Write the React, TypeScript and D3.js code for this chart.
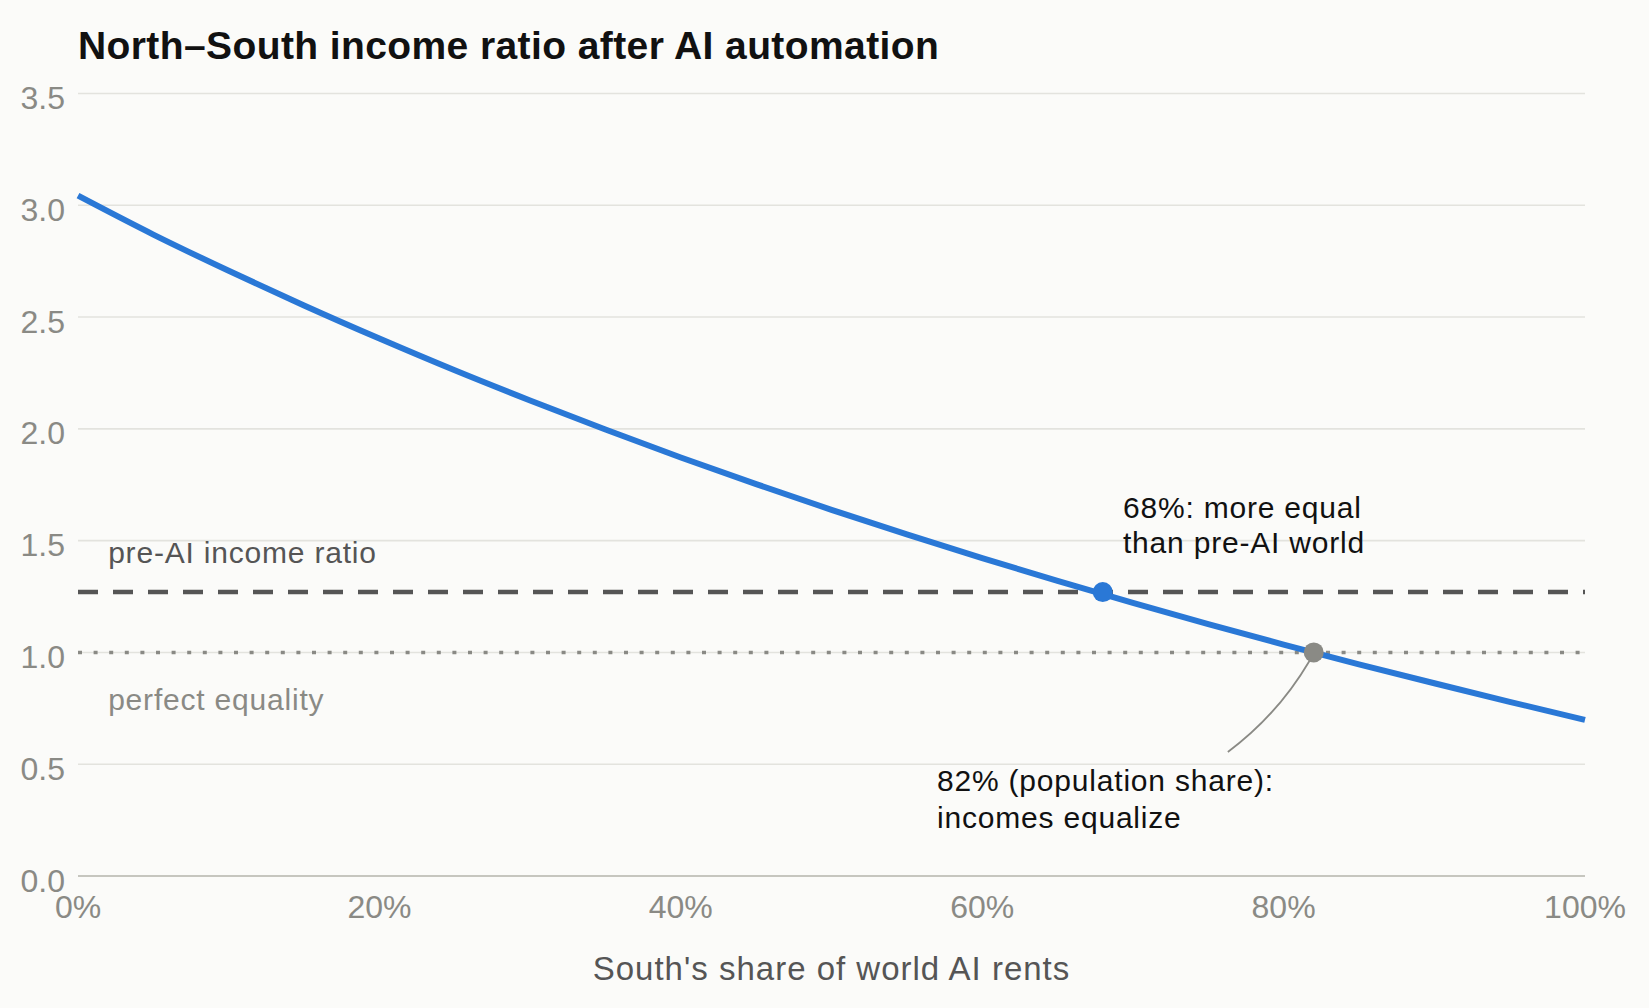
import React from 'react'
import * as d3 from 'd3'

// South's share of world AI rents (0..1) and the resulting North/South income ratio
const shares = [0, 0.05, 0.1, 0.15, 0.2, 0.25, 0.3, 0.35, 0.4, 0.45, 0.5, 0.55, 0.6, 0.65, 0.7, 0.75, 0.8, 0.85, 0.9, 0.95, 1.0]
const ratios = [3.043, 2.869, 2.707, 2.552, 2.404, 2.262, 2.127, 1.997, 1.872, 1.753, 1.638, 1.528, 1.422, 1.32, 1.222, 1.127, 1.035, 0.947, 0.862, 0.779, 0.698]

const yTicks = [0, 0.5, 1.0, 1.5, 2.0, 2.5, 3.0, 3.5]
const xTicks = [0, 0.2, 0.4, 0.6, 0.8, 1.0]

const preAIRatio = 1.27
const equalityRatio = 1.0
const crossShare = 0.68
const equalizeShare = 0.82

const W = 1649
const H = 1008
const FONT = '"Liberation Sans", Arial, Helvetica, sans-serif'

const App: React.FC = () => {
  const x = d3.scaleLinear().domain([0, 1]).range([78, 1585])
  const y = d3.scaleLinear().domain([0, 3.5]).range([876, 93.5])

  const pts = shares.map((s, i) => [s, ratios[i]] as [number, number])
  const line = d3.line<[number, number]>()
    .x(d => x(d[0]))
    .y(d => y(d[1]))
    .curve(d3.curveMonotoneX)

  // leader from the "incomes equalize" label up to the grey dot
  const leader = d3.path()
  leader.moveTo(x(0.763), y(0.555))
  leader.quadraticCurveTo(x(0.796), y(0.72), x(equalizeShare) - 4, y(equalityRatio) + 8)

  const fmtPct = d3.format('.0%')
  const fmtY = d3.format('.1f')

  return (
    <>
      <style>{'body{margin:0;background:#fbfbf9}'}</style>
      <svg width={W} height={H} style={{ display: 'block', background: '#fbfbf9' }} fontFamily={FONT}>
        {/* title */}
        <text x={78} y={59} fontSize={39} fontWeight={700} fill="#111" letterSpacing={0.4}>
          North–South income ratio after AI automation
        </text>

        {/* gridlines */}
        {yTicks.filter(t => t > 0).map(t => (
          <line key={t} x1={x(0)} x2={x(1)} y1={y(t)} y2={y(t)} stroke="#e3e3de" strokeWidth={1.6} />
        ))}
        <line x1={x(0)} x2={x(1)} y1={y(0)} y2={y(0)} stroke="#c6c6bf" strokeWidth={2.2} />

        {/* y tick labels */}
        {yTicks.map(t => (
          <text key={t} x={65} y={y(t) + 15.5} textAnchor="end" fontSize={32} fill="#8a8a85">
            {fmtY(t)}
          </text>
        ))}

        {/* x tick labels */}
        {xTicks.map(t => (
          <text key={t} x={x(t)} y={918} textAnchor="middle" fontSize={32} fill="#8a8a85">
            {fmtPct(t)}
          </text>
        ))}

        <text x={(x(0) + x(1)) / 2} y={980} textAnchor="middle" fontSize={33} fill="#555" letterSpacing={1}>
          South's share of world AI rents
        </text>

        {/* reference lines */}
        <line x1={x(0)} x2={x(1)} y1={y(equalityRatio)} y2={y(equalityRatio)}
          stroke="#8a8a85" strokeWidth={3.5} strokeDasharray="4 11.6" />
        <line x1={x(0)} x2={x(1)} y1={y(preAIRatio)} y2={y(preAIRatio)}
          stroke="#555" strokeWidth={4.5} strokeDasharray="20 15" />

        <text x={x(0.02)} y={y(1.4)} fontSize={30} fill="#555" letterSpacing={0.8}>pre-AI income ratio</text>
        <text x={x(0.02)} y={y(0.742)} fontSize={30} fill="#8a8a85" letterSpacing={0.8}>perfect equality</text>

        {/* main curve */}
        <path d={line(pts) || ''} fill="none" stroke="#2a78d6" strokeWidth={6} strokeLinejoin="round" />

        {/* leader + markers */}
        <path d={leader.toString()} fill="none" stroke="#8a8a85" strokeWidth={1.8} />
        <circle cx={x(crossShare)} cy={y(preAIRatio)} r={10} fill="#2a78d6" />
        <circle cx={x(equalizeShare)} cy={y(equalityRatio)} r={10} fill="#8a8a85" />

        {/* annotations */}
        <text x={x(0.6934)} y={y(1.601)} fontSize={30} fill="#111" letterSpacing={0.8}>
          <tspan x={x(0.6934)}>68%: more equal</tspan>
          <tspan x={x(0.6934)} dy={35}>than pre-AI world</tspan>
        </text>
        <text x={x(0.57)} y={y(0.38)} fontSize={30} fill="#111" letterSpacing={0.8}>
          <tspan x={x(0.57)}>82% (population share):</tspan>
          <tspan x={x(0.57)} dy={37}>incomes equalize</tspan>
        </text>
      </svg>
    </>
  )
}

export default App
